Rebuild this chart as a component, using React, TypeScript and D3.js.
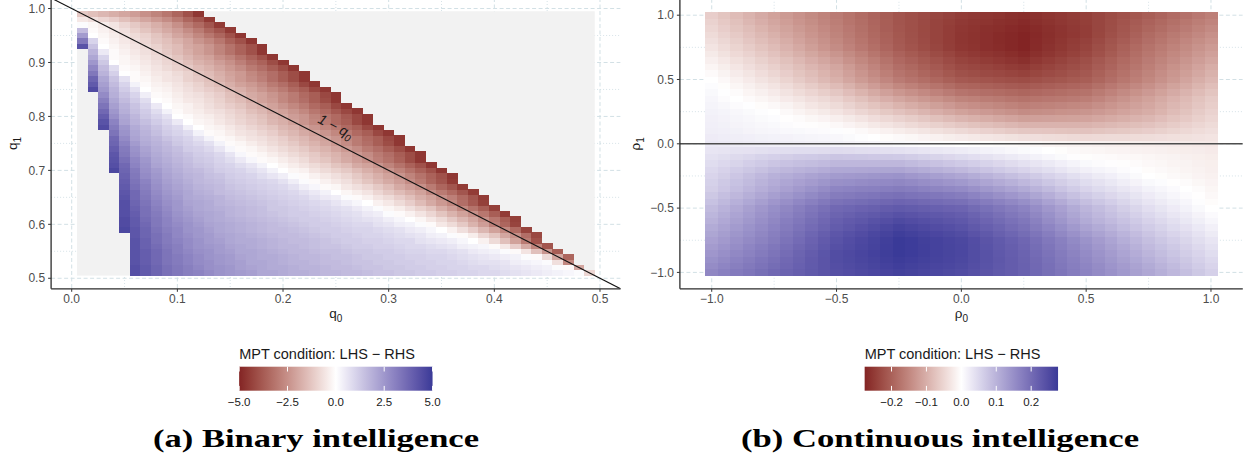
import React from "react";
import * as d3 from "d3";

// ---------- panel (a): binary intelligence ----------
const binaryQ0 = [0.01,0.02,0.03,0.04,0.05,0.06,0.07,0.08,0.09,0.1,0.11,0.12,0.13,0.14,0.15,0.16,0.17,0.18,0.19,0.2,0.21,0.22,0.23,0.24,0.25,0.26,0.27,0.28,0.29,0.3,0.31,0.32,0.33,0.34,0.35,0.36,0.37,0.38,0.39,0.4,0.41,0.42,0.43,0.44,0.45,0.46,0.47,0.48,0.49];
const binaryQ1 = [0.51,0.52,0.53,0.54,0.55,0.56,0.57,0.58,0.59,0.6,0.61,0.62,0.63,0.64,0.65,0.66,0.67,0.68,0.69,0.7,0.71,0.72,0.73,0.74,0.75,0.76,0.77,0.78,0.79,0.8,0.81,0.82,0.83,0.84,0.85,0.86,0.87,0.88,0.89,0.9,0.91,0.92,0.93,0.94,0.95,0.96,0.97,0.98,0.99];
// first q0 with a defined value in each q1 row (cells outside a row are NA)
const binaryFirstQ0 = [0.06,0.06,0.06,0.06,0.06,0.06,0.06,0.06,0.05,0.05,0.05,0.05,0.05,0.05,0.05,0.05,0.05,0.05,0.05,0.04,0.04,0.04,0.04,0.04,0.04,0.04,0.04,0.03,0.03,0.03,0.03,0.03,0.03,0.03,0.02,0.02,0.02,0.02,0.02,0.02,0.02,0.02,0.01,0.01,0.01,0.01,0.01,0.01,0.01];
// LHS - RHS, one row per q1
const binaryValues = [
  [4.4,4.1,3.8,3.5,3.3,3.1,3.0,2.8,2.6,2.5,2.4,2.3,2.1,2.1,2.0,1.9,1.9,1.8,1.7,1.7,1.6,1.6,1.5,1.4,1.4,1.3,1.3,1.2,1.2,1.1,1.1,1.0,1.0,0.9,0.9,0.8,0.7,0.6,0.5,0.4,0.3,0.2,0.1,-0.9],
  [4.4,4.1,3.8,3.5,3.3,3.1,2.9,2.7,2.6,2.5,2.3,2.2,2.1,2.0,2.0,1.9,1.8,1.8,1.7,1.6,1.6,1.5,1.4,1.4,1.3,1.3,1.2,1.2,1.1,1.1,1.0,1.0,0.9,0.9,0.8,0.7,0.6,0.5,0.4,0.3,0.1,-0.1,-2.0],
  [4.3,4.0,3.7,3.4,3.2,3.0,2.8,2.7,2.5,2.4,2.3,2.1,2.1,2.0,1.9,1.8,1.8,1.7,1.6,1.6,1.5,1.4,1.4,1.3,1.3,1.2,1.2,1.1,1.1,1.0,1.0,0.9,0.8,0.7,0.7,0.6,0.4,0.3,0.2,0.1,-0.7,-2.7],
  [4.3,4.0,3.7,3.4,3.2,3.0,2.8,2.6,2.5,2.4,2.2,2.1,2.0,2.0,1.9,1.8,1.7,1.7,1.6,1.5,1.5,1.4,1.3,1.3,1.2,1.2,1.1,1.1,1.0,1.0,0.9,0.8,0.7,0.6,0.5,0.4,0.3,0.1,-0.1,-0.8,-2.0,-3.5],
  [4.3,4.0,3.7,3.4,3.1,2.9,2.7,2.6,2.4,2.3,2.1,2.1,2.0,1.9,1.8,1.7,1.7,1.6,1.5,1.5,1.4,1.3,1.3,1.2,1.2,1.1,1.0,1.0,0.9,0.9,0.8,0.7,0.5,0.4,0.3,0.1,-0.1,-0.6,-1.4,-2.4,-3.7],
  [4.3,3.9,3.6,3.3,3.1,2.8,2.6,2.5,2.4,2.2,2.1,2.0,1.9,1.8,1.7,1.7,1.6,1.5,1.4,1.4,1.3,1.2,1.2,1.1,1.1,1.0,0.9,0.9,0.8,0.7,0.6,0.4,0.3,0.2,-0.1,-0.5,-1.1,-1.9,-2.8,-3.9],
  [4.3,3.9,3.5,3.2,3.0,2.8,2.6,2.4,2.3,2.1,2.0,2.0,1.9,1.8,1.7,1.6,1.6,1.5,1.4,1.3,1.2,1.2,1.1,1.1,1.0,0.9,0.9,0.7,0.6,0.5,0.4,0.2,0.0,-0.3,-0.8,-1.4,-2.1,-3.0,-4.0],
  [4.2,3.8,3.5,3.2,2.9,2.7,2.5,2.4,2.2,2.1,2.0,1.9,1.8,1.7,1.6,1.6,1.5,1.4,1.3,1.2,1.2,1.1,1.0,1.0,0.9,0.8,0.7,0.6,0.4,0.3,0.1,-0.1,-0.4,-0.9,-1.3,-2.0,-2.5,-3.3,-4.2],
  [4.6,4.2,3.8,3.4,3.1,2.9,2.6,2.5,2.3,2.1,2.0,1.9,1.8,1.7,1.6,1.6,1.5,1.4,1.3,1.2,1.2,1.1,1.0,1.0,0.9,0.8,0.7,0.5,0.4,0.2,0.0,-0.3,-0.7,-1.1,-1.6,-2.1,-2.7,-3.4,-4.3],
  [4.5,4.1,3.7,3.3,3.0,2.8,2.6,2.4,2.2,2.1,2.0,1.9,1.8,1.7,1.6,1.5,1.4,1.3,1.2,1.2,1.1,1.0,0.9,0.9,0.7,0.6,0.4,0.3,0.1,-0.1,-0.5,-0.8,-1.2,-1.7,-2.2,-2.9,-3.5,-4.3],
  [4.5,4.1,3.6,3.3,3.0,2.7,2.5,2.3,2.1,2.0,1.9,1.8,1.7,1.6,1.5,1.4,1.3,1.2,1.2,1.1,1.0,0.9,0.8,0.7,0.6,0.4,0.2,0.0,-0.2,-0.5,-0.8,-1.2,-1.6,-2.0,-2.5,-3.1,-3.7,-4.4],
  [4.4,4.0,3.5,3.2,2.9,2.6,2.4,2.2,2.1,2.0,1.8,1.7,1.6,1.5,1.4,1.3,1.2,1.2,1.1,1.0,0.9,0.8,0.7,0.5,0.4,0.1,-0.1,-0.3,-0.6,-0.9,-1.3,-1.7,-2.1,-2.5,-3.1,-3.7,-4.5],
  [4.4,3.9,3.5,3.1,2.8,2.5,2.3,2.1,2.0,1.9,1.8,1.7,1.6,1.5,1.3,1.3,1.2,1.1,1.0,0.9,0.8,0.7,0.5,0.3,0.1,-0.2,-0.4,-0.7,-1.0,-1.3,-1.8,-2.2,-2.7,-3.2,-3.7,-4.4],
  [4.4,3.8,3.4,3.0,2.7,2.5,2.2,2.1,2.0,1.8,1.7,1.6,1.5,1.4,1.3,1.2,1.1,1.0,0.9,0.8,0.6,0.4,0.2,0.0,-0.3,-0.5,-0.8,-1.1,-1.5,-1.9,-2.3,-2.7,-3.3,-3.8,-4.4],
  [4.3,3.7,3.3,2.9,2.6,2.4,2.1,2.0,1.9,1.8,1.6,1.5,1.4,1.3,1.2,1.1,1.0,0.9,0.7,0.5,0.4,0.1,-0.1,-0.3,-0.6,-0.8,-1.1,-1.4,-1.8,-2.1,-2.5,-2.9,-3.4,-3.9,-4.5],
  [4.2,3.7,3.2,2.8,2.5,2.3,2.1,1.9,1.8,1.6,1.5,1.4,1.3,1.2,1.1,1.0,0.9,0.7,0.5,0.3,0.0,-0.2,-0.4,-0.6,-0.9,-1.2,-1.5,-1.8,-2.1,-2.6,-3.0,-3.4,-3.9,-4.5],
  [4.1,3.5,3.1,2.7,2.4,2.2,2.0,1.8,1.7,1.6,1.4,1.3,1.2,1.1,1.0,0.9,0.7,0.4,0.2,-0.1,-0.2,-0.5,-0.7,-0.9,-1.2,-1.5,-1.9,-2.2,-2.5,-3.0,-3.5,-3.9,-4.5],
  [4.0,3.4,3.0,2.6,2.3,2.1,1.9,1.7,1.6,1.5,1.3,1.2,1.1,1.0,0.9,0.7,0.4,0.1,-0.1,-0.3,-0.5,-0.7,-1.0,-1.3,-1.6,-1.9,-2.2,-2.6,-3.0,-3.5,-3.9,-4.5],
  [3.9,3.3,2.8,2.5,2.2,2.0,1.8,1.7,1.5,1.4,1.2,1.1,1.0,0.8,0.6,0.4,0.1,-0.1,-0.3,-0.5,-0.7,-0.9,-1.2,-1.5,-1.8,-2.1,-2.4,-2.8,-3.2,-3.6,-4.0,-4.6],
  [4.6,3.8,3.2,2.7,2.4,2.1,1.9,1.7,1.6,1.4,1.2,1.1,1.0,0.8,0.6,0.3,0.0,-0.2,-0.3,-0.6,-0.8,-1.0,-1.2,-1.5,-1.8,-2.1,-2.4,-2.8,-3.2,-3.6,-4.0,-4.6],
  [4.4,3.7,3.0,2.6,2.2,2.0,1.8,1.6,1.4,1.3,1.1,1.0,0.8,0.6,0.3,0.0,-0.2,-0.4,-0.6,-0.8,-1.0,-1.3,-1.5,-1.9,-2.1,-2.4,-2.8,-3.2,-3.6,-4.0,-4.6],
  [4.3,3.5,2.9,2.5,2.1,1.9,1.7,1.5,1.3,1.2,1.0,0.8,0.5,0.2,-0.1,-0.2,-0.4,-0.6,-0.8,-1.1,-1.3,-1.6,-1.9,-2.2,-2.5,-2.9,-3.2,-3.6,-4.1,-4.6],
  [4.2,3.3,2.7,2.3,2.0,1.8,1.6,1.4,1.2,1.1,0.9,0.6,0.2,-0.1,-0.2,-0.4,-0.6,-0.8,-1.0,-1.2,-1.5,-1.7,-2.0,-2.3,-2.6,-3.0,-3.3,-3.7,-4.1,-4.6],
  [4.0,3.2,2.6,2.2,1.9,1.7,1.5,1.2,1.1,0.9,0.6,0.2,-0.1,-0.2,-0.4,-0.6,-0.8,-1.0,-1.2,-1.5,-1.7,-2.0,-2.3,-2.6,-3.0,-3.3,-3.7,-4.1,-4.6],
  [3.8,3.0,2.4,2.0,1.8,1.6,1.3,1.1,0.9,0.7,0.3,-0.1,-0.2,-0.4,-0.6,-0.8,-1.0,-1.2,-1.5,-1.7,-2.0,-2.3,-2.6,-3.0,-3.3,-3.7,-4.1,-4.6],
  [3.7,2.8,2.2,1.9,1.7,1.4,1.2,1.0,0.7,0.3,-0.1,-0.2,-0.4,-0.6,-0.7,-0.9,-1.1,-1.4,-1.6,-1.9,-2.1,-2.4,-2.7,-3.0,-3.4,-3.7,-4.2,-4.6],
  [3.4,2.6,2.1,1.8,1.5,1.2,1.0,0.8,0.3,-0.1,-0.2,-0.4,-0.6,-0.7,-0.9,-1.1,-1.4,-1.6,-1.9,-2.1,-2.4,-2.7,-3.0,-3.4,-3.7,-4.2,-4.6],
  [4.5,3.2,2.5,2.0,1.7,1.4,1.1,0.9,0.4,0.0,-0.2,-0.3,-0.5,-0.7,-0.9,-1.1,-1.3,-1.6,-1.8,-2.1,-2.4,-2.7,-3.0,-3.4,-3.7,-4.2,-4.6],
  [4.3,3.0,2.2,1.8,1.5,1.2,0.9,0.5,0.0,-0.2,-0.3,-0.5,-0.7,-0.9,-1.1,-1.3,-1.6,-1.8,-2.1,-2.4,-2.7,-3.0,-3.4,-3.7,-4.2,-4.6],
  [4.0,2.7,2.1,1.7,1.3,1.0,0.7,0.0,-0.1,-0.3,-0.4,-0.6,-0.8,-1.0,-1.2,-1.4,-1.7,-1.9,-2.2,-2.4,-2.8,-3.1,-3.4,-3.8,-4.2,-4.6],
  [3.7,2.5,1.9,1.5,1.2,0.8,0.3,-0.1,-0.3,-0.4,-0.6,-0.7,-0.9,-1.1,-1.4,-1.6,-1.9,-2.1,-2.4,-2.7,-3.1,-3.4,-3.8,-4.2,-4.6],
  [3.4,2.3,1.8,1.4,1.0,0.5,0.0,-0.2,-0.3,-0.5,-0.7,-0.9,-1.1,-1.3,-1.6,-1.8,-2.1,-2.4,-2.7,-3.0,-3.4,-3.7,-4.2,-4.6],
  [3.1,2.1,1.6,1.2,0.8,0.0,-0.1,-0.3,-0.5,-0.6,-0.8,-1.0,-1.3,-1.5,-1.8,-2.1,-2.3,-2.7,-3.0,-3.3,-3.7,-4.1,-4.6],
  [2.8,1.9,1.4,1.0,0.4,-0.1,-0.2,-0.4,-0.6,-0.7,-0.9,-1.1,-1.4,-1.6,-1.9,-2.1,-2.4,-2.7,-3.0,-3.4,-3.7,-4.2,-4.6],
  [4.5,2.5,1.8,1.2,0.7,0.0,-0.2,-0.3,-0.5,-0.7,-0.9,-1.1,-1.3,-1.6,-1.8,-2.1,-2.4,-2.7,-3.0,-3.4,-3.7,-4.2,-4.6],
  [4.1,2.3,1.6,1.0,0.3,-0.1,-0.3,-0.4,-0.6,-0.8,-1.0,-1.3,-1.5,-1.8,-2.1,-2.3,-2.6,-3.0,-3.3,-3.7,-4.2,-4.6],
  [3.8,2.1,1.4,0.7,-0.1,-0.2,-0.4,-0.6,-0.7,-1.0,-1.2,-1.4,-1.7,-2.0,-2.3,-2.6,-2.9,-3.3,-3.7,-4.1,-4.6],
  [3.3,1.8,1.1,0.0,-0.1,-0.3,-0.5,-0.6,-0.8,-1.0,-1.3,-1.5,-1.8,-2.1,-2.3,-2.7,-3.0,-3.3,-3.7,-4.1,-4.6],
  [2.9,1.6,0.8,-0.1,-0.2,-0.4,-0.6,-0.8,-1.0,-1.2,-1.5,-1.7,-2.0,-2.3,-2.6,-3.0,-3.3,-3.7,-4.1,-4.6],
  [2.5,1.3,0.0,-0.2,-0.3,-0.5,-0.7,-0.9,-1.1,-1.4,-1.7,-1.9,-2.2,-2.5,-2.9,-3.3,-3.6,-4.1,-4.6],
  [2.1,1.0,-0.1,-0.2,-0.4,-0.6,-0.8,-1.0,-1.3,-1.6,-1.9,-2.1,-2.5,-2.8,-3.2,-3.6,-4.0,-4.6],
  [1.8,0.5,-0.1,-0.3,-0.5,-0.7,-0.9,-1.2,-1.5,-1.8,-2.1,-2.4,-2.8,-3.2,-3.6,-4.0,-4.6],
  [4.3,1.4,0.0,-0.2,-0.4,-0.6,-0.8,-1.0,-1.3,-1.5,-1.9,-2.1,-2.4,-2.8,-3.2,-3.6,-4.0,-4.6],
  [3.3,1.0,-0.1,-0.3,-0.5,-0.7,-0.9,-1.2,-1.4,-1.7,-2.0,-2.4,-2.7,-3.1,-3.6,-4.0,-4.6],
  [2.4,0.0,-0.2,-0.4,-0.6,-0.8,-1.0,-1.3,-1.6,-2.0,-2.3,-2.7,-3.1,-3.5,-4.0,-4.6],
  [1.6,-0.1,-0.3,-0.5,-0.7,-1.0,-1.3,-1.6,-1.9,-2.2,-2.6,-3.0,-3.5,-3.9,-4.5],
  [0.1,-0.2,-0.4,-0.6,-0.9,-1.2,-1.5,-1.8,-2.1,-2.5,-3.0,-3.4,-3.9,-4.5],
  [-0.5,-0.7,-0.9,-1.1,-1.4,-1.7,-2.0,-2.3,-2.6,-3.0,-3.5,-3.9,-4.5],
  [-1.2,-1.4,-1.6,-1.8,-2.0,-2.2,-2.5,-2.8,-3.1,-3.5,-4.0,-4.6],
];
const binaryXTicks = [0, 0.1, 0.2, 0.3, 0.4, 0.5];
const binaryYTicks = [0.5, 0.6, 0.7, 0.8, 0.9, 1.0];
const binaryLimits = [-5, 5];
const binaryLegendTicks = [-5, -2.5, 0, 2.5, 5];

// ---------- panel (b): continuous intelligence ----------
const rhoGrid = [-1,-0.95,-0.9,-0.85,-0.8,-0.75,-0.7,-0.65,-0.6,-0.55,-0.5,-0.45,-0.4,-0.35,-0.3,-0.25,-0.2,-0.15,-0.1,-0.05,0,0.05,0.1,0.15,0.2,0.25,0.3,0.35,0.4,0.45,0.5,0.55,0.6,0.65,0.7,0.75,0.8,0.85,0.9,0.95,1];
// LHS - RHS in thousandths; rows follow rho1 = rhoGrid, columns follow rho0 = rhoGrid
const continuousMilli = [
  [161,170,179,187,196,205,213,221,228,236,244,248,253,257,262,266,263,259,256,252,249,242,236,229,223,216,206,196,186,176,166,156,146,136,126,116,105,94,83,72,61],
  [154,163,172,181,190,199,208,217,227,236,245,250,255,260,265,270,266,263,259,256,252,245,238,230,223,216,205,195,184,174,163,153,142,132,121,111,100,89,77,66,55],
  [147,156,166,175,185,194,205,215,226,236,247,252,258,263,269,274,270,266,263,259,255,247,239,231,223,215,204,193,181,170,159,148,137,126,115,104,93,82,72,61,50],
  [139,149,159,168,178,188,200,212,223,235,247,253,259,265,271,277,273,269,264,260,256,247,239,230,222,213,201,190,178,167,155,143,132,120,109,97,86,76,65,55,44],
  [132,142,152,163,173,183,195,207,218,230,242,249,256,263,270,277,273,269,264,260,256,247,238,229,220,211,199,187,174,162,150,138,126,114,102,90,80,70,59,49,39],
  [125,135,146,156,167,177,189,201,214,226,238,246,254,261,269,277,273,268,264,259,255,246,236,227,217,208,195,182,170,157,144,132,120,107,95,83,73,63,53,43,33],
  [118,129,140,150,161,172,184,196,209,221,233,241,248,256,263,271,266,261,257,252,247,237,228,218,209,199,186,173,159,146,133,121,110,98,87,75,65,55,46,36,26],
  [111,122,133,144,155,166,178,189,201,212,224,232,240,247,255,263,258,253,248,243,238,229,219,210,200,191,177,163,150,136,122,111,100,88,77,66,57,47,38,28,19],
  [102,114,126,137,149,161,173,184,196,207,219,226,232,239,245,252,248,243,239,234,230,221,211,202,192,183,169,154,140,125,111,100,90,79,69,58,49,40,30,21,12],
  [96,108,120,131,143,155,166,178,189,201,212,218,224,229,235,241,237,233,230,226,222,213,203,194,184,175,161,147,132,118,104,93,82,72,61,50,41,32,24,15,6],
  [89,101,113,126,138,150,161,172,183,194,205,209,214,218,223,227,224,221,217,214,211,202,193,184,175,166,152,138,125,111,97,86,75,64,53,42,34,25,17,8,0],
  [80,92,104,115,127,139,149,160,170,181,191,195,199,203,207,211,208,204,201,197,194,185,176,168,159,150,137,123,110,96,83,73,63,53,43,33,26,18,11,3,-4],
  [72,83,94,105,116,127,137,147,157,167,177,180,184,187,191,194,190,186,183,179,175,166,157,148,139,130,118,106,93,81,69,60,51,43,34,25,18,12,5,-1,-8],
  [64,74,85,95,106,116,125,135,144,154,163,166,169,171,174,177,173,168,164,159,155,146,137,129,120,111,100,89,77,66,55,47,40,32,25,17,11,6,0,-5,-11],
  [60,70,80,89,99,109,117,125,132,140,148,150,153,156,158,161,156,151,146,141,136,127,119,110,102,93,83,73,64,54,44,37,30,22,15,8,4,-1,-5,-10,-14],
  [55,64,74,83,93,102,108,114,121,127,133,135,137,140,142,144,138,133,127,122,116,108,100,91,83,75,67,58,50,41,33,26,20,13,7,0,-3,-7,-10,-14,-17],
  [50,58,66,73,81,89,94,99,104,109,114,115,116,117,118,119,113,108,102,97,91,84,77,69,62,55,48,41,33,26,19,14,10,5,1,-4,-7,-10,-13,-16,-19],
  [44,50,56,63,69,75,79,83,86,90,94,94,94,94,94,94,89,84,79,74,69,63,57,51,45,39,33,27,20,14,8,5,2,-2,-5,-8,-10,-13,-15,-18,-20],
  [39,43,48,52,57,61,64,67,69,72,75,74,73,71,70,69,65,60,56,51,47,42,37,32,27,22,17,12,7,2,-3,-5,-6,-8,-9,-11,-13,-15,-18,-20,-22],
  [33,35,37,38,40,42,43,44,44,45,46,45,43,42,40,39,36,33,30,27,24,21,17,14,10,7,4,0,-3,-7,-10,-11,-13,-14,-16,-17,-18,-20,-22,-23,-25],
  [28,27,26,24,23,22,21,20,19,18,17,15,13,12,10,8,6,5,3,2,0,-2,-3,-5,-6,-8,-10,-12,-13,-15,-17,-18,-19,-20,-21,-22,-23,-24,-26,-27,-28],
  [25,23,22,20,18,17,16,14,13,11,10,7,3,0,-4,-7,-10,-14,-17,-21,-24,-27,-30,-33,-36,-39,-40,-42,-43,-45,-46,-45,-44,-44,-43,-42,-40,-38,-37,-35,-33],
  [22,20,18,15,13,11,9,8,6,5,3,-2,-7,-12,-17,-22,-27,-32,-37,-42,-47,-51,-56,-60,-65,-69,-70,-71,-73,-74,-75,-72,-69,-67,-64,-61,-57,-52,-48,-43,-39],
  [20,18,15,13,10,8,5,2,-2,-5,-8,-14,-20,-27,-33,-39,-45,-51,-57,-63,-69,-74,-79,-84,-89,-94,-94,-94,-94,-94,-94,-90,-86,-83,-79,-75,-69,-63,-56,-50,-44],
  [19,16,13,10,7,4,-1,-5,-10,-14,-19,-26,-33,-41,-48,-55,-62,-69,-77,-84,-91,-97,-102,-108,-113,-119,-118,-117,-116,-115,-114,-109,-104,-99,-94,-89,-81,-73,-66,-58,-50],
  [17,14,10,7,3,0,-7,-13,-20,-26,-33,-41,-50,-58,-67,-75,-83,-91,-100,-108,-116,-122,-127,-133,-138,-144,-142,-140,-137,-135,-133,-127,-121,-114,-108,-102,-93,-83,-74,-64,-55],
  [14,10,5,1,-4,-8,-15,-22,-30,-37,-44,-54,-64,-73,-83,-93,-102,-110,-119,-127,-136,-141,-146,-151,-156,-161,-158,-156,-153,-150,-148,-140,-132,-125,-117,-109,-99,-89,-80,-70,-60],
  [11,5,0,-6,-11,-17,-25,-32,-40,-47,-55,-66,-77,-89,-100,-111,-120,-129,-137,-146,-155,-159,-164,-168,-173,-177,-174,-171,-169,-166,-163,-154,-144,-135,-125,-116,-106,-95,-85,-74,-64],
  [8,1,-5,-12,-18,-25,-34,-43,-51,-60,-69,-81,-93,-106,-118,-130,-139,-148,-157,-166,-175,-179,-183,-186,-190,-194,-191,-187,-184,-180,-177,-167,-157,-147,-137,-127,-116,-105,-94,-83,-72],
  [4,-3,-11,-18,-26,-33,-43,-53,-63,-73,-83,-96,-110,-123,-137,-150,-159,-168,-176,-185,-194,-197,-201,-204,-208,-211,-207,-203,-199,-195,-191,-181,-170,-160,-149,-139,-127,-115,-104,-92,-80],
  [0,-8,-17,-25,-34,-42,-53,-64,-75,-86,-97,-111,-125,-138,-152,-166,-175,-184,-193,-202,-211,-214,-217,-221,-224,-227,-223,-218,-214,-209,-205,-194,-183,-172,-161,-150,-138,-126,-113,-101,-89],
  [-6,-15,-24,-32,-41,-50,-61,-72,-82,-93,-104,-118,-132,-147,-161,-175,-184,-194,-203,-213,-222,-226,-230,-233,-237,-241,-235,-229,-224,-218,-212,-201,-189,-178,-166,-155,-143,-131,-120,-108,-96],
  [-12,-21,-30,-40,-49,-58,-69,-79,-90,-100,-111,-125,-140,-154,-169,-183,-192,-202,-211,-221,-230,-234,-239,-243,-248,-252,-245,-239,-232,-226,-219,-207,-196,-184,-173,-161,-149,-137,-126,-114,-102],
  [-19,-28,-38,-47,-57,-66,-77,-88,-100,-111,-122,-136,-150,-163,-177,-191,-200,-210,-219,-229,-238,-243,-248,-253,-258,-263,-255,-247,-240,-232,-224,-212,-201,-189,-178,-166,-155,-144,-133,-122,-111],
  [-26,-36,-46,-55,-65,-75,-87,-98,-110,-121,-133,-146,-159,-173,-186,-199,-209,-218,-228,-237,-247,-252,-257,-261,-266,-271,-263,-256,-248,-241,-233,-221,-209,-196,-184,-172,-161,-150,-140,-129,-118],
  [-33,-43,-53,-63,-73,-83,-95,-107,-120,-132,-144,-157,-170,-182,-195,-208,-217,-227,-236,-246,-255,-259,-264,-268,-273,-277,-269,-261,-254,-246,-238,-226,-214,-201,-189,-177,-167,-156,-146,-135,-125],
  [-39,-49,-59,-70,-80,-90,-102,-114,-126,-138,-150,-162,-174,-187,-199,-211,-220,-229,-238,-247,-256,-260,-264,-269,-273,-277,-270,-263,-256,-249,-242,-230,-218,-207,-195,-183,-173,-163,-152,-142,-132],
  [-44,-55,-65,-76,-86,-97,-109,-120,-132,-143,-155,-167,-178,-190,-201,-213,-222,-230,-239,-247,-256,-260,-264,-269,-273,-277,-271,-265,-259,-253,-247,-235,-223,-212,-200,-188,-178,-168,-159,-149,-139],
  [-50,-61,-72,-82,-93,-104,-115,-126,-137,-148,-159,-170,-181,-193,-204,-215,-223,-231,-239,-247,-255,-259,-263,-266,-270,-274,-269,-263,-258,-252,-247,-236,-226,-215,-205,-194,-185,-175,-166,-156,-147],
  [-55,-66,-77,-89,-100,-111,-121,-132,-142,-153,-163,-174,-184,-195,-205,-216,-223,-230,-238,-245,-252,-256,-259,-263,-266,-270,-265,-260,-255,-250,-245,-236,-227,-217,-208,-199,-190,-181,-172,-163,-154],
  [-61,-72,-83,-94,-105,-116,-126,-136,-146,-156,-166,-176,-186,-196,-206,-216,-223,-229,-236,-242,-249,-252,-256,-259,-263,-266,-262,-257,-253,-248,-244,-236,-228,-221,-213,-205,-196,-187,-179,-170,-161],
];
const continuousTicks = [-1, -0.5, 0, 0.5, 1];
const continuousLimits = [-0.277, 0.277];
const continuousLegendTicks = [-0.2, -0.1, 0, 0.1, 0.2];

// ---------- styling ----------
const LOW = "#832424";
const MID = "#ffffff";
const HIGH = "#3a3a98";
const NA_FILL = "#f2f2f2";
const SANS = "'Liberation Sans', Arial, Helvetica, sans-serif";
const SERIF = "'Liberation Serif', 'DejaVu Serif', serif";
const GRID = "#d2e0e5";
const PLOT_BOTTOM = 288.8;
const fmt = d3.format(".1f");

const toLow = d3.interpolateLab(MID, LOW);
const toHigh = d3.interpolateLab(MID, HIGH);
function fillFor(v: number, lim: number) {
  const t = Math.max(-1, Math.min(1, v / lim));
  return t < 0 ? toLow(-t) : toHigh(t);
}

// ggplot-like 5% expansion of the tile extent
function expanded(grid: number[]) {
  const half = (grid[1] - grid[0]) / 2;
  const lo = grid[0] - half;
  const hi = grid[grid.length - 1] + half;
  const pad = (hi - lo) * 0.05;
  return [lo - pad, hi + pad];
}

function Frame({ id, x, y, xTicks, yTicks, children }: any) {
  const [x0, x1] = x.range();
  const [y0, y1] = y.range();
  const minorX = d3.pairs(xTicks).map(([a, b]: any) => (a + b) / 2);
  const minorY = d3.pairs(yTicks).map(([a, b]: any) => (a + b) / 2);
  return (
    <g>
      <clipPath id={id}>
        <rect x={x0} y={y1} width={x1 - x0} height={y0 - y1} />
      </clipPath>
      <g clipPath={`url(#${id})`}>
        {minorX.map((t: number) => (
          <line key={"mx" + t} x1={x(t)} x2={x(t)} y1={y1} y2={y0} stroke={GRID} strokeWidth={0.9} strokeDasharray="1 2" />
        ))}
        {minorY.map((t: number) => (
          <line key={"my" + t} x1={x0} x2={x1} y1={y(t)} y2={y(t)} stroke={GRID} strokeWidth={0.9} strokeDasharray="1 2" />
        ))}
        {xTicks.map((t: number) => (
          <line key={"gx" + t} x1={x(t)} x2={x(t)} y1={y1} y2={y0} stroke={GRID} strokeWidth={1} strokeDasharray="4 2.5" />
        ))}
        {yTicks.map((t: number) => (
          <line key={"gy" + t} x1={x0} x2={x1} y1={y(t)} y2={y(t)} stroke={GRID} strokeWidth={1} strokeDasharray="4 2.5" />
        ))}
        {children}
      </g>
      <line x1={x0} x2={x0} y1={y1} y2={y0} stroke="#2b2b2b" strokeWidth={1.3} />
      <line x1={x0} x2={x1} y1={y0} y2={y0} stroke="#2b2b2b" strokeWidth={1.3} />
      {yTicks.map((t: number) => (
        <g key={"ty" + t}>
          <line x1={x0 - 3} x2={x0} y1={y(t)} y2={y(t)} stroke="#333" strokeWidth={1} />
          <text x={x0 - 6} y={y(t)} dy="0.35em" textAnchor="end" fontSize={12} fill="#4d4d4d" fontFamily={SANS}>
            {fmt(t)}
          </text>
        </g>
      ))}
      {xTicks.map((t: number) => (
        <g key={"tx" + t}>
          <line x1={x(t)} x2={x(t)} y1={y0} y2={y0 + 3} stroke="#333" strokeWidth={1} />
          <text x={x(t)} y={y0 + 14} textAnchor="middle" fontSize={12} fill="#4d4d4d" fontFamily={SANS}>
            {fmt(t)}
          </text>
        </g>
      ))}
    </g>
  );
}

function AxisTitles({ y, sym, xTitleX, yTitleX }: any) {
  const [y0, y1] = y.range();
  return (
    <g fontFamily={SANS} fill="#1a1a1a" fontSize={13.5}>
      <text x={xTitleX} y={318} textAnchor="middle">
        {sym}
        <tspan fontSize={10} dy={3.5}>0</tspan>
      </text>
      <text transform={`translate(${yTitleX},${(y0 + y1) / 2}) rotate(-90)`} textAnchor="middle">
        {sym}
        <tspan fontSize={10} dy={3.5}>1</tspan>
      </text>
    </g>
  );
}

function Legend({ id, center, limits, ticks }: any) {
  const half = 96.7;
  const s = d3.scaleLinear().domain(limits).range([center - half, center + half]);
  const top = 366.7;
  const h = 24;
  const stops = d3.range(0, 1.0001, 0.05);
  return (
    <g fontFamily={SANS}>
      <defs>
        <linearGradient id={id} x1="0" x2="1" y1="0" y2="0">
          {stops.map((p: number) => (
            <stop key={p} offset={p} stopColor={fillFor(limits[0] + p * (limits[1] - limits[0]), limits[1])} />
          ))}
        </linearGradient>
      </defs>
      <text x={s(limits[0])} y={359} fontSize={14.5} fill="#1a1a1a">
        MPT condition: LHS − RHS
      </text>
      <rect x={s(limits[0])} y={top} width={s(limits[1]) - s(limits[0])} height={h} fill={`url(#${id})`} />
      {ticks.map((t: number) => (
        <g key={t}>
          <line x1={s(t)} x2={s(t)} y1={top} y2={top + 4.8} stroke="#fff" strokeWidth={1} />
          <line x1={s(t)} x2={s(t)} y1={top + h - 4.8} y2={top + h} stroke="#fff" strokeWidth={1} />
          <text x={s(t)} y={406} textAnchor="middle" fontSize={11.5} fill="#1a1a1a">
            {fmt(t)}
          </text>
        </g>
      ))}
    </g>
  );
}

export default function App() {
  // panel (a) scales
  const xA = d3.scaleLinear().domain(expanded(binaryQ0)).range([51.1, 620.6]);
  const yA = d3.scaleLinear().domain(expanded(binaryQ1)).range([PLOT_BOTTOM, -2.0]);
  const stepA = binaryQ0[1] - binaryQ0[0];
  const cellWA = xA(stepA) - xA(0);
  const cellHA = yA(0) - yA(stepA);

  // panel (b) scales
  const xB = d3.scaleLinear().domain(expanded(rhoGrid)).range([679.9, 1242.8]);
  const yB = d3.scaleLinear().domain(expanded(rhoGrid)).range([PLOT_BOTTOM, -1.2]);
  const stepB = rhoGrid[1] - rhoGrid[0];
  const cellWB = xB(stepB) - xB(0);
  const cellHB = yB(0) - yB(stepB);

  const slope = (yA(0.5) - yA(1)) / (xA(0.5) - xA(0));
  const angle = (Math.atan(slope) * 180) / Math.PI;
  const [dA0, dA1] = xA.domain();

  const centerA = (xA.range()[0] + xA.range()[1]) / 2;
  const centerB = (xB.range()[0] + xB.range()[1]) / 2;

  return (
    <svg width={1248} height={461} style={{ position: "absolute", left: 0, top: 0, background: "#fff" }}>
      <rect width={1248} height={461} fill="#fff" />

      {/* ---------- (a) ---------- */}
      <Frame id="clipA" x={xA} y={yA} xTicks={binaryXTicks} yTicks={binaryYTicks}>
        <rect
          x={xA(binaryQ0[0] - stepA / 2)}
          y={yA(binaryQ1[binaryQ1.length - 1] + stepA / 2)}
          width={xA(binaryQ0[binaryQ0.length - 1] + stepA / 2) - xA(binaryQ0[0] - stepA / 2)}
          height={yA(binaryQ1[0] - stepA / 2) - yA(binaryQ1[binaryQ1.length - 1] + stepA / 2)}
          fill={NA_FILL}
        />
        <g shapeRendering="crispEdges">
          {binaryValues.map((row, i) => {
            const start = Math.round((binaryFirstQ0[i] - binaryQ0[0]) / stepA);
            const q1 = binaryQ1[i];
            return row.map((v, j) => {
              const q0 = binaryQ0[start + j];
              return (
                <rect
                  key={i + "-" + j}
                  x={xA(q0 - stepA / 2)}
                  y={yA(q1 + stepA / 2)}
                  width={cellWA + 0.3}
                  height={cellHA + 0.3}
                  fill={fillFor(v, binaryLimits[1])}
                />
              );
            });
          })}
        </g>
        <line x1={xA(dA0)} y1={yA(1 - dA0)} x2={xA(dA1)} y2={yA(1 - dA1)} stroke="#111" strokeWidth={1.1} />
      </Frame>
      <text
        transform={`translate(${xA(0.25)},${yA(0.75) - 17}) rotate(${angle})`}
        textAnchor="middle"
        dy="0.35em"
        fontFamily={SANS}
        fontStyle="italic"
        fontSize={14}
        fill="#1a1a1a"
      >
        1 − q<tspan fontSize={10} dy={3.5}>0</tspan>
      </text>
      <AxisTitles y={yA} sym="q" xTitleX={centerA} yTitleX={17} />
      <Legend id="gradA" center={centerA} limits={binaryLimits} ticks={binaryLegendTicks} />

      {/* ---------- (b) ---------- */}
      <Frame id="clipB" x={xB} y={yB} xTicks={continuousTicks} yTicks={continuousTicks}>
        <g shapeRendering="crispEdges">
          {continuousMilli.map((row, i) =>
            row.map((m, j) => (
              <rect
                key={i + "-" + j}
                x={xB(rhoGrid[j] - stepB / 2)}
                y={yB(rhoGrid[i] + stepB / 2)}
                width={cellWB + 0.3}
                height={cellHB + 0.3}
                fill={fillFor(m / 1000, continuousLimits[1])}
              />
            ))
          )}
        </g>
        <line x1={xB.range()[0]} x2={xB.range()[1]} y1={yB(0)} y2={yB(0)} stroke="#4d4d4d" strokeWidth={1.6} />
      </Frame>
      <AxisTitles y={yB} sym="ρ" xTitleX={centerB} yTitleX={640} />
      <Legend id="gradB" center={centerB} limits={continuousLimits} ticks={continuousLegendTicks} />

      {/* captions */}
      <text x={316} y={447} textAnchor="middle" fontFamily={SERIF} fontWeight="bold" fontSize={26} textLength={326} lengthAdjust="spacingAndGlyphs" fill="#000">
        (a) Binary intelligence
      </text>
      <text x={940} y={447} textAnchor="middle" fontFamily={SERIF} fontWeight="bold" fontSize={26} textLength={398} lengthAdjust="spacingAndGlyphs" fill="#000">
        (b) Continuous intelligence
      </text>
    </svg>
  );
}
